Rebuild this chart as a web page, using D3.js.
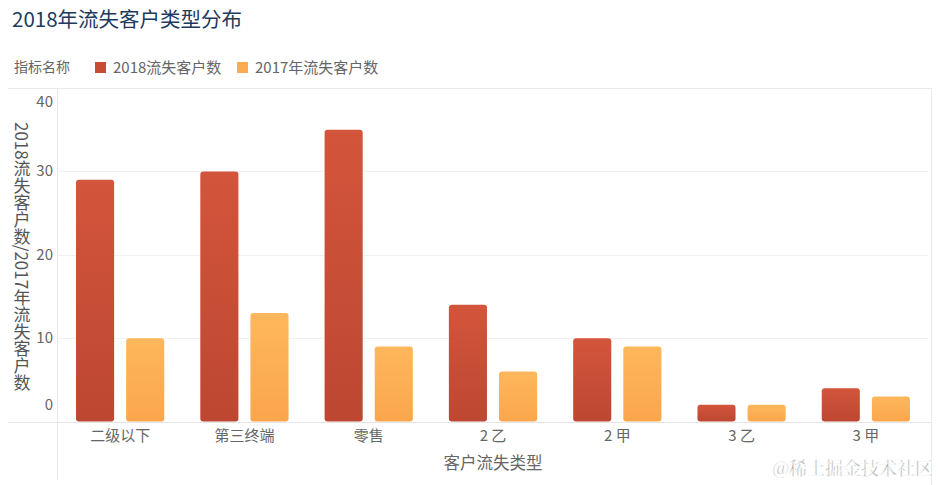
<!DOCTYPE html>
<html>
<head>
<meta charset="utf-8">
<script src="https://cdn.jsdelivr.net/npm/d3@7/dist/d3.min.js"></script>
<style>
  html, body { margin: 0; padding: 0; background: #fff; }
  svg { display: block; font-family: "Noto Sans CJK SC", "Noto Sans", sans-serif; }
</style>
</head>
<body>
<svg id="chart" width="940" height="485"></svg>
<script>
const categories = ["二级以下", "第三终端", "零售", "2 乙", "2 甲", "3 乙", "3 甲"];
const seriesNames = ["2018流失客户数", "2017年流失客户数"];
const values2018 = [29, 30, 35, 14, 10, 2, 4];
const values2017 = [10, 13, 9, 6, 9, 2, 3];
const yTicks = [0, 10, 20, 30, 40];
const titleText = "2018年流失客户类型分布";
const legendTitle = "指标名称";
const xTitle = "客户流失类型";
const yTitle = "2018流失客户数/2017年流失客户数";
const watermark = "@稀土掘金技术社区";

const svg = d3.select("#chart");
const plot = { left: 58, right: 928, top: 88, bottom: 421.5 };

const defs = svg.append("defs");
const g1 = defs.append("linearGradient").attr("id", "g2018").attr("x1", 0).attr("y1", 0).attr("x2", 0).attr("y2", 1);
g1.append("stop").attr("offset", "0%").attr("stop-color", "#d3553b");
g1.append("stop").attr("offset", "100%").attr("stop-color", "#bd4731");
const g2 = defs.append("linearGradient").attr("id", "g2017").attr("x1", 0).attr("y1", 0).attr("x2", 0).attr("y2", 1);
g2.append("stop").attr("offset", "0%").attr("stop-color", "#feb75c");
g2.append("stop").attr("offset", "100%").attr("stop-color", "#fba64c");
const fills = ["url(#g2018)", "url(#g2017)"];
const legendColors = ["#c84b33", "#fdab50"];

// Title
svg.append("text").attr("x", 12).attr("y", 27)
  .attr("font-size", 20.5).attr("fill", "#203a5e").text(titleText);

// Legend
svg.append("text").attr("x", 14).attr("y", 72).attr("font-size", 14).attr("fill", "#666").text(legendTitle);
const legendX = [95, 237];
seriesNames.forEach((s, i) => {
  svg.append("rect").attr("x", legendX[i]).attr("y", 62).attr("width", 11).attr("height", 11).attr("fill", legendColors[i]);
  svg.append("text").attr("x", legendX[i] + 18).attr("y", 72.5).attr("font-size", 15).attr("fill", "#666").text(s);
});

// Frame lines
const frame = "#e9e9e9";
svg.append("line").attr("x1", 8).attr("x2", 931).attr("y1", 88.5).attr("y2", 88.5).attr("stroke", frame);
svg.append("line").attr("x1", 931.5).attr("x2", 931.5).attr("y1", 88).attr("y2", 485).attr("stroke", frame);
svg.append("line").attr("x1", 57.5).attr("x2", 57.5).attr("y1", 88).attr("y2", 480).attr("stroke", frame);

// Scales
const x = d3.scaleBand().domain(categories).range([plot.left, plot.right]).paddingInner(0.29).paddingOuter(0.145);
const xs = d3.scaleBand().domain(seriesNames).range([0, x.bandwidth()]).paddingInner(0.24).paddingOuter(0);
const y = d3.scaleLinear().domain([0, 40]).range([plot.bottom, plot.top]);

// Gridlines
svg.append("g").selectAll("line").data(yTicks.filter(t => t > 0 && t < 40)).join("line")
  .attr("x1", plot.left).attr("x2", plot.right)
  .attr("y1", d => Math.round(y(d)) + 0.5).attr("y2", d => Math.round(y(d)) + 0.5)
  .attr("stroke", "#f1f1f1");

// Baseline
svg.append("line").attr("x1", 8).attr("x2", 931).attr("y1", Math.round(plot.bottom) + 0.5).attr("y2", Math.round(plot.bottom) + 0.5).attr("stroke", "#e6e6e6");

// Bars
const data = categories.map((c, i) => ({ cat: c, vals: [values2018[i], values2017[i]] }));
const groups = svg.append("g").selectAll("g").data(data).join("g")
  .attr("transform", d => `translate(${x(d.cat)},0)`);
groups.selectAll("path").data(d => d.vals.map((v, i) => ({ s: seriesNames[i], v, i }))).join("path")
  .attr("fill", d => fills[d.i])
  .attr("d", d => {
    const x0 = xs(d.s), w = xs.bandwidth();
    const yt = y(d.v), yb = y(0);
    const r = Math.min(3, (yb - yt) / 2);
    return `M${x0},${yb - r} Q${x0},${yb} ${x0 + r},${yb} L${x0 + w - r},${yb} Q${x0 + w},${yb} ${x0 + w},${yb - r}` +
           ` L${x0 + w},${yt + r} Q${x0 + w},${yt} ${x0 + w - r},${yt} L${x0 + r},${yt} Q${x0},${yt} ${x0},${yt + r} Z`;
  });

// Y axis
const yAxis = svg.append("g").attr("transform", `translate(53,0)`)
  .call(d3.axisLeft(y).tickValues(yTicks).tickSize(0).tickPadding(0));
yAxis.select(".domain").remove();
yAxis.selectAll("text").attr("font-size", 15).attr("fill", "#666")
  .attr("font-family", "\"Noto Sans CJK SC\", \"Noto Sans\", sans-serif");
yAxis.selectAll(".tick").attr("transform", d => {
  const yy = Math.max(plot.top + 14, Math.min(plot.bottom - 16, y(d)));
  return `translate(0,${yy})`;
});

// X axis
const xAxis = svg.append("g").attr("transform", `translate(0,${plot.bottom})`)
  .call(d3.axisBottom(x).tickSize(0).tickPadding(9));
xAxis.select(".domain").remove();
xAxis.selectAll("text").attr("font-size", 15).attr("fill", "#666")
  .attr("font-family", "\"Noto Sans CJK SC\", \"Noto Sans\", sans-serif");

// Axis titles
svg.append("text").attr("x", (plot.left + plot.right) / 2).attr("y", 469)
  .attr("text-anchor", "middle").attr("font-size", 16.5).attr("fill", "#666").text(xTitle);
svg.append("text").attr("x", 22).attr("y", 122)
  .style("writing-mode", "vertical-rl").style("text-orientation", "mixed")
  .attr("font-size", 17).attr("fill", "#555").text(yTitle);

// Watermark
svg.append("text").attr("x", 933).attr("y", 475).attr("text-anchor", "end")
  .attr("font-size", 18).attr("fill", "#aaaaaa").attr("stroke", "#fff").attr("stroke-width", 0.4)
  .attr("font-family", "\"Noto Serif CJK SC\", \"Noto Sans CJK SC\", serif").text(watermark);
</script>
</body>
</html>
